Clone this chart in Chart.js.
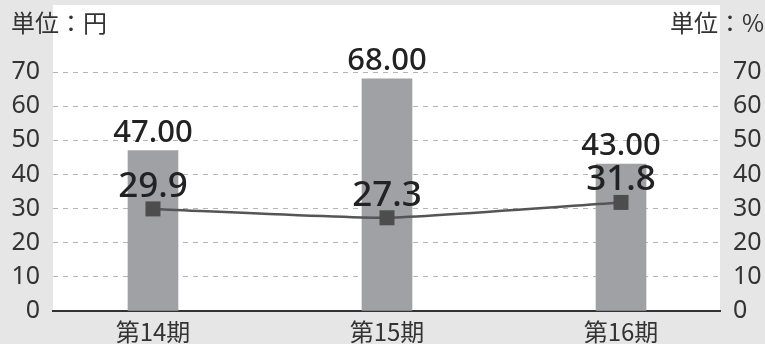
<!DOCTYPE html>
<html>
<head>
<meta charset="utf-8">
<script src="https://cdn.jsdelivr.net/npm/chart.js@4/dist/chart.umd.min.js"></script>
<style>
  html, body { margin: 0; padding: 0; background: #e6e6e6; }
  #wrap { width: 765px; height: 344px; }
</style>
</head>
<body>
<div id="wrap"><canvas id="combo"></canvas></div>
<script>
  const periods = ['第14期', '第15期', '第16期'];
  const amountYen = [47.00, 68.00, 43.00];
  const ratioPct = [29.9, 27.3, 31.8];
  const yTicks = [0, 10, 20, 30, 40, 50, 60, 70];

  const font = '"Noto Sans", "Noto Sans CJK JP", sans-serif';
  const cjkFont = '"Noto Sans CJK JP", "Noto Sans", sans-serif';

  // gray page + white plot panel
  const panel = {
    id: 'panel',
    beforeDraw(chart) {
      const { ctx, chartArea } = chart;
      ctx.save();
      ctx.fillStyle = '#e6e6e6';
      ctx.fillRect(0, 0, chart.width, chart.height);
      ctx.fillStyle = '#ffffff';
      ctx.fillRect(chartArea.left, 5, chartArea.right - chartArea.left, chartArea.bottom - 5);
      ctx.restore();
    }
  };

  // unit captions and value labels
  const labels = {
    id: 'labels',
    afterDatasetsDraw(chart) {
      const { ctx } = chart;
      ctx.save();
      ctx.fillStyle = '#333';
      ctx.font = '24px ' + cjkFont;
      ctx.textBaseline = 'alphabetic';
      ctx.textAlign = 'left';
      ctx.fillText('単位：円', 11, 32);
      ctx.textAlign = 'right';
      ctx.fillText('単位：%', 764, 32);

      ctx.fillStyle = '#222';
      ctx.textAlign = 'center';
      chart.getDatasetMeta(0).data.forEach((bar, i) => {
        ctx.font = '500 31px ' + font;
        ctx.fillText(amountYen[i].toFixed(2), bar.x, bar.y - 9);
      });
      chart.getDatasetMeta(1).data.forEach((pt, i) => {
        ctx.font = '500 35px ' + font;
        ctx.fillText(ratioPct[i].toFixed(1), pt.x, pt.y - 12);
      });
      ctx.restore();
    }
  };

  const fixTicks = (scale) => { scale.ticks = yTicks.map(v => ({ value: v })); };

  new Chart(document.getElementById('combo'), {
    data: {
      datasets: [{
        type: 'bar',
        label: '円',
        data: amountYen.map((v, i) => ({ x: i, y: v })),
        backgroundColor: '#a0a1a5',
        barThickness: 50,
        yAxisID: 'y',
        order: 2
      }, {
        type: 'line',
        label: '%',
        data: ratioPct.map((v, i) => ({ x: i, y: v })),
        borderColor: '#555555',
        borderWidth: 2.5,
        tension: 0.15,
        pointStyle: 'rect',
        pointRadius: 10.6,
        pointHoverRadius: 10.6,
        pointBackgroundColor: '#4d4d4d',
        pointBorderWidth: 0,
        yAxisID: 'y1',
        order: 1
      }]
    },
    options: {
      responsive: true,
      maintainAspectRatio: false,
      animation: false,
      layout: { padding: { top: 72, left: 0, right: 0, bottom: 0 } },
      plugins: {
        legend: { display: false },
        tooltip: { enabled: false }
      },
      scales: {
        x: {
          type: 'linear',
          offset: false,
          min: -0.4273,
          max: 2.423,
          afterBuildTicks: (scale) => { scale.ticks = periods.map((p, i) => ({ value: i })); },
          afterFit: (scale) => { scale.height = 33; },
          grid: { display: false, offset: false },
          border: { display: true, color: '#333', width: 2 },
          ticks: {
            padding: -2,
            color: '#333',
            font: { family: cjkFont, size: 24 },
            callback: (v) => periods[v]
          }
        },
        y: {
          position: 'left',
          min: 0,
          max: 70,
          afterBuildTicks: fixTicks,
          afterFit: (scale) => { scale.width = 53; },
          grid: { color: '#b5b5b5', lineWidth: 1, drawTicks: false },
          border: { display: false, dash: [5, 5] },
          ticks: { padding: 13, color: '#333', font: { family: font, size: 25 } }
        },
        y1: {
          position: 'right',
          min: 0,
          max: 70,
          afterBuildTicks: fixTicks,
          afterFit: (scale) => { scale.width = 45; },
          grid: { display: false, drawTicks: false },
          border: { display: false },
          ticks: { padding: 13, color: '#333', font: { family: font, size: 25 } }
        }
      }
    },
    plugins: [panel, labels]
  });
</script>
</body>
</html>
